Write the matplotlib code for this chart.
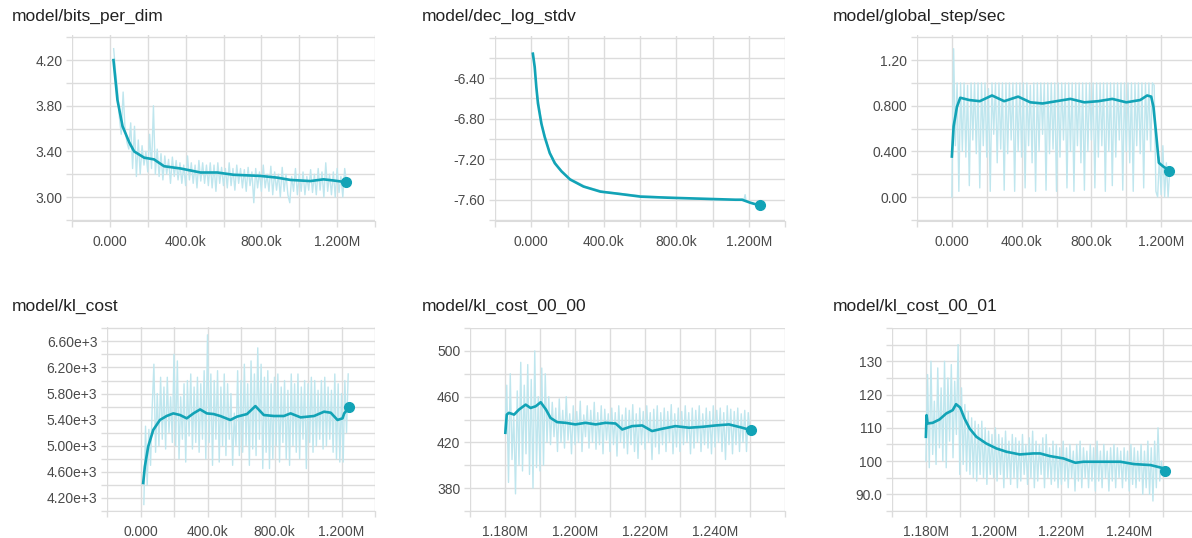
import numpy as np
import matplotlib
matplotlib.use("Agg")
import matplotlib.pyplot as plt
from matplotlib.ticker import FixedLocator, FixedFormatter, NullFormatter

plt.rcParams['font.family'] = ['Liberation Sans', 'DejaVu Sans']

# ---- data ----
# panel 1: model/bits_per_dim
bpd_raw_x = np.arange(20e3, 1251e3, 10e3)
bpd_raw_y = [4.30, 4.10, 3.95, 3.70, 3.55, 3.92, 3.60, 3.48, 3.42, 3.65,
             3.25, 3.62, 3.18, 3.50, 3.20, 3.45, 3.28, 3.40, 3.22, 3.55,
             3.25, 3.80, 3.20, 3.42, 3.18, 3.38, 3.15, 3.36, 3.20, 3.33,
             3.12, 3.35, 3.18, 3.32, 3.15, 3.30, 3.12, 3.28, 3.10, 3.36,
             3.15, 3.30, 3.12, 3.28, 3.08, 3.32, 3.14, 3.30, 3.12, 3.28,
             3.10, 3.30, 3.08, 3.28, 3.05, 3.30, 3.12, 3.26, 3.10, 3.25,
             3.08, 3.30, 3.10, 3.25, 3.06, 3.28, 3.12, 3.25, 3.08, 3.24,
             3.05, 3.26, 3.10, 3.22, 2.95, 3.25, 3.08, 3.22, 3.05, 3.28,
             3.08, 3.20, 3.05, 3.27, 3.02, 3.22, 3.06, 3.20, 3.00, 3.26,
             3.05, 3.20, 3.02, 2.95, 3.18, 3.05, 3.25, 3.02, 3.20, 3.05,
             3.22, 3.02, 3.18, 3.06, 3.24, 3.04, 3.20, 3.02, 3.25, 3.06,
             3.22, 3.00, 3.30, 3.05, 3.20, 3.02, 3.22, 3.00, 3.25, 3.04,
             3.18, 3.00, 3.25, 3.12]
bpd_sm_x = [19e3, 40e3, 67e3, 102e3, 128e3, 181e3, 233e3, 286e3, 374e3, 479e3, 567e3,
            654e3, 795e3, 883e3, 953e3, 1058e3, 1128e3, 1181e3, 1247e3]
bpd_sm_y = [4.20, 3.85, 3.62, 3.48, 3.40, 3.345, 3.33, 3.27, 3.25, 3.215, 3.215,
            3.195, 3.185, 3.17, 3.15, 3.14, 3.155, 3.145, 3.13]

# panel 2: model/dec_log_stdv
dls_raw_x = [10e3, 30e3, 60e3, 100e3, 150e3, 200e3, 300e3, 400e3, 500e3, 600e3, 700e3,
             800e3, 900e3, 1000e3, 1100e3, 1160e3, 1175e3, 1180e3, 1185e3, 1210e3, 1260e3]
dls_raw_y = [-6.15, -6.52, -6.87, -7.12, -7.29, -7.38, -7.47, -7.52, -7.54, -7.56, -7.57,
             -7.58, -7.59, -7.60, -7.60, -7.60, -7.59, -7.55, -7.61, -7.63, -7.66]
dls_sm_x = [9e3, 19e3, 28e3, 37e3, 56e3, 74e3, 102e3, 130e3, 167e3, 214e3, 288e3, 381e3,
            474e3, 605e3, 753e3, 940e3, 1126e3, 1163e3, 1209e3, 1260e3]
dls_sm_y = [-6.16, -6.29, -6.49, -6.65, -6.85, -6.98, -7.14, -7.24, -7.32, -7.40, -7.47,
            -7.52, -7.54, -7.57, -7.58, -7.59, -7.60, -7.60, -7.63, -7.656]

# panel 3: model/global_step/sec
gss_raw_x = np.arange(0, 1251e3, 10e3)
gss_raw_y = [0.00, 1.30, 0.45, 1.00, 0.05, 1.00, 0.40, 1.00, 0.35, 0.98,
             0.10, 1.00, 0.50, 1.00, 0.38, 1.00, 0.08, 1.00, 0.45, 1.00,
             0.35, 0.95, 0.05, 1.00, 0.55, 1.00, 0.30, 1.00, 0.42, 1.00,
             0.06, 1.00, 0.38, 1.00, 0.50, 1.00, 0.05, 1.00, 0.40, 1.00,
             0.35, 1.00, 0.08, 1.00, 0.45, 0.98, 0.30, 1.00, 0.05, 1.00,
             0.40, 1.00, 0.55, 1.00, 0.06, 1.00, 0.38, 1.00, 0.42, 1.00,
             0.05, 1.00, 0.35, 1.00, 0.50, 1.00, 0.08, 1.00, 0.40, 1.00,
             0.05, 1.00, 0.45, 1.00, 0.30, 1.00, 0.06, 1.00, 0.40, 1.00,
             0.50, 1.00, 0.08, 1.00, 0.35, 1.00, 0.45, 1.00, 0.05, 1.00,
             0.40, 1.00, 0.10, 1.00, 0.35, 1.00, 0.50, 1.00, 0.06, 1.00,
             0.40, 1.00, 0.30, 1.00, 0.05, 1.00, 0.45, 1.00, 0.38, 1.00,
             0.08, 1.00, 0.50, 1.00, 0.40, 1.00, 0.98, 0.05, 0.00, 0.35,
             0.02, 0.45, 0.00, 0.30, 0.00, 0.25]
gss_sm_x = [0, 10e3, 29e3, 48e3, 100e3, 160e3, 230e3, 300e3, 380e3, 450e3, 520e3, 600e3,
            680e3, 760e3, 840e3, 920e3, 1000e3, 1080e3, 1120e3, 1143e3, 1156e3, 1171e3,
            1187e3, 1210e3, 1229e3, 1248e3]
gss_sm_y = [0.355, 0.62, 0.79, 0.87, 0.85, 0.84, 0.89, 0.84, 0.88, 0.83, 0.82, 0.84,
            0.86, 0.83, 0.84, 0.86, 0.83, 0.85, 0.89, 0.88, 0.79, 0.56, 0.30, 0.27,
            0.25, 0.225]

# panel 4: model/kl_cost
kl_raw_x = np.arange(20e3, 1241e3, 10e3)
kl_raw_y = [4100, 5300, 4400, 5250, 4700, 5600, 6250, 4900, 5800, 5000,
            6050, 5100, 5900, 4950, 6050, 5200, 5750, 5050, 6400, 5000,
            6300, 4800, 5750, 5100, 5950, 4750, 6000, 5150, 6100, 4950,
            5900, 5050, 6050, 4900, 5950, 5100, 6150, 4800, 6700, 5050,
            6100, 4700, 6000, 5100, 6150, 4750, 5900, 5000, 6100, 4850,
            5950, 5100, 5800, 4700, 5500, 5000, 6150, 4850, 6000, 4900,
            6250, 5000, 5950, 4700, 6300, 4950, 6100, 4850, 6500, 5100,
            6250, 4650, 6050, 4900, 6150, 4650, 5950, 4800, 6050, 5000,
            6100, 4750, 5900, 5050, 6000, 4800, 5850, 4700, 6100, 5000,
            5950, 4900, 6100, 4800, 5900, 5100, 6000, 4650, 5950, 5050,
            6050, 4900, 6000, 5000, 5850, 5100, 6000, 4950, 6050, 5000,
            5900, 5100, 5850, 4900, 6100, 4800, 5950, 4750, 5800, 4750,
            6000, 5200, 6100]
kl_sm_x = [16e3, 26e3, 46e3, 76e3, 116e3, 156e3, 196e3, 236e3, 276e3, 316e3, 356e3,
           396e3, 436e3, 476e3, 536e3, 576e3, 636e3, 686e3, 736e3, 796e3, 856e3, 896e3,
           956e3, 1036e3, 1096e3, 1136e3, 1176e3, 1206e3, 1216e3, 1246e3]
kl_sm_y = [4429, 4683, 4988, 5242, 5395, 5456, 5496, 5471, 5420, 5496, 5557, 5496, 5486,
           5456, 5395, 5446, 5486, 5608, 5471, 5456, 5456, 5496, 5435, 5456, 5522, 5506,
           5395, 5420, 5496, 5588]

# panel 5: model/kl_cost_00_00
k0_raw_x = np.arange(1180e3, 1250.1e3, 0.5e3)
k0_raw_y = [430, 470, 385, 480, 405, 445, 375, 465, 400, 490,
            395, 470, 410, 488, 392, 475, 380, 500, 398, 460,
            395, 485, 400, 480, 420, 460, 418, 455, 425, 450,
            412, 458, 420, 448, 415, 460, 422, 445, 410, 452,
            418, 447, 420, 456, 412, 444, 425, 452, 415, 448,
            420, 455, 414, 446, 418, 452, 410, 449, 422, 445,
            412, 450, 418, 446, 408, 452, 420, 444, 415, 450,
            410, 448, 418, 453, 412, 445, 406, 450, 418, 447,
            414, 452, 420, 446, 405, 449, 416, 452, 410, 446,
            418, 450, 412, 447, 420, 453, 410, 445, 416, 450,
            412, 447, 418, 452, 420, 446, 410, 450, 415, 448,
            420, 452, 412, 445, 418, 450, 415, 447, 410, 452,
            416, 448, 420, 450, 412, 446, 405, 452, 418, 449,
            410, 447, 418, 450, 412, 445, 420, 448, 412, 446,
            428]
k0_sm_x = [1180.1e3, 1180.5e3, 1181.1e3, 1182.6e3, 1184.0e3, 1185.9e3, 1187.3e3,
           1188.8e3, 1190.2e3, 1191.7e3, 1193.0e3, 1194.9e3, 1197.3e3, 1200.1e3,
           1203.0e3, 1205.9e3, 1208.7e3, 1211.6e3, 1213.5e3, 1216.3e3, 1219.2e3,
           1222.0e3, 1224.9e3, 1228.7e3, 1232.6e3, 1236.4e3, 1240.2e3, 1244.0e3,
           1247.8e3, 1250.2e3]
k0_sm_y = [428.4, 444.3, 445.8, 444.3, 448.7, 453.0, 450.1, 451.6, 455.1, 448.7, 441.4,
           437.7, 437.1, 435.7, 437.1, 435.7, 437.1, 436.5, 431.3, 434.2, 434.8, 429.9,
           431.9, 434.2, 432.8, 433.6, 434.8, 435.7, 432.8, 430.7]

# panel 6: model/kl_cost_00_01
k1_raw_x = np.arange(1180e3, 1250.1e3, 0.5e3)
k1_raw_y = [100, 126, 98, 130, 102, 118, 99, 128, 104, 122,
            100, 130, 98, 125, 106, 129, 101, 124, 108, 135,
            96, 122, 99, 117, 97, 115, 96, 113, 95, 112,
            94, 111, 96, 112, 95, 110, 93, 109, 96, 108,
            95, 110, 94, 108, 96, 107, 92, 109, 95, 106,
            93, 108, 95, 107, 92, 106, 94, 108, 96, 105,
            93, 107, 95, 109, 92, 106, 94, 105, 96, 107,
            92, 108, 95, 104, 93, 106, 94, 105, 92, 104,
            93, 106, 94, 104, 92, 105, 95, 103, 91, 105,
            94, 106, 92, 104, 95, 103, 92, 105, 94, 104,
            91, 106, 94, 103, 92, 105, 95, 103, 91, 104,
            94, 105, 92, 104, 95, 103, 92, 104, 94, 103,
            91, 105, 93, 104, 92, 103, 94, 105, 90, 103,
            92, 106, 90, 104, 88, 106, 92, 110, 94, 100,
            96]
k1_sm_x = [1180.0e3, 1180.2e3, 1180.5e3, 1182.0e3, 1184.0e3, 1186.0e3, 1187.9e3,
           1188.9e3, 1190.1e3, 1191.4e3, 1192.9e3, 1194.9e3, 1197.8e3, 1200.8e3,
           1203.8e3, 1207.7e3, 1211.7e3, 1213.7e3, 1216.6e3, 1220.6e3, 1224.1e3,
           1226.5e3, 1231.5e3, 1237.4e3, 1241.4e3, 1246.3e3, 1250.3e3, 1250.5e3]
k1_sm_y = [107.3, 113.8, 111.3, 111.5, 112.5, 114.3, 115.3, 117.1, 116.1, 112.8, 109.8,
           107.3, 105.3, 103.8, 102.8, 102.0, 102.3, 102.3, 101.5, 100.8, 99.5, 99.8,
           99.8, 99.8, 99.1, 98.8, 97.8, 97.0]

# tick labels
long_x_ticks = [0, 400e3, 800e3, 1200e3]
long_x_labels = ['0.000', '400.0k', '800.0k', '1.200M']
short_x_ticks = [1180e3, 1200e3, 1220e3, 1240e3]
short_x_labels = ['1.180M', '1.200M', '1.220M', '1.240M']

W, H = 1192, 538
SMOOTH = '#12a3b6'
RAW = '#bfe6ee'
GRID = '#dcdcdc'
TXT = '#4a4a4a'

fig = plt.figure(figsize=(W / 100, H / 100), dpi=100)


def panel(box, title, title_x, title_y, raw, smooth, xlim, ylim, xt, xl, xminor,
          yt, yl, yminor):
    l, r, t, b = box
    ax = fig.add_axes([l / W, 1 - b / H, (r - l) / W, (b - t) / H])
    ax.plot(raw[0], raw[1], color=RAW, lw=1.0, zorder=2)
    ax.plot(smooth[0], smooth[1], color=SMOOTH, lw=1.9, zorder=3)
    ax.plot(smooth[0][-1], smooth[1][-1], 'o', color=SMOOTH, ms=7, zorder=4)
    ax.set_xlim(*xlim)
    ax.set_ylim(*ylim)
    ax.xaxis.set_major_locator(FixedLocator(xt))
    ax.xaxis.set_major_formatter(FixedFormatter(xl))
    ax.xaxis.set_minor_locator(FixedLocator(xminor))
    ax.xaxis.set_minor_formatter(NullFormatter())
    ax.yaxis.set_major_locator(FixedLocator(yt))
    ax.yaxis.set_major_formatter(FixedFormatter(yl))
    ax.yaxis.set_minor_locator(FixedLocator(yminor))
    ax.yaxis.set_minor_formatter(NullFormatter())
    ax.grid(True, which='both', color=GRID, lw=1.0, zorder=0)
    ax.set_axisbelow(True)
    for s in ['top', 'left', 'right']:
        ax.spines[s].set_visible(False)
    ax.spines['bottom'].set_color(GRID)
    ax.tick_params(axis='both', which='both', color=GRID, labelcolor=TXT,
                   labelsize=10, length=4, width=1)
    ax.tick_params(axis='x', which='both', pad=6)
    ax.tick_params(axis='y', which='both', pad=3)
    fig.text(title_x / W, 1 - title_y / H, title, fontsize=12.5, color='#222222',
             va='center', ha='left')
    return ax


long_minor = np.arange(-200e3, 1401e3, 200e3)
short_minor = np.arange(1170e3, 1261e3, 10e3)

panel((72, 375, 35, 221), 'model/bits_per_dim', 12, 16,
      (bpd_raw_x, bpd_raw_y), (bpd_sm_x, bpd_sm_y), (-200e3, 1400e3), (2.79, 4.42),
      long_x_ticks, long_x_labels, long_minor,
      [3.0, 3.4, 3.8, 4.2], ['3.00', '3.40', '3.80', '4.20'], np.arange(2.8, 4.41, 0.2))

panel((495, 785, 36, 221), 'model/dec_log_stdv', 422, 16,
      (dls_raw_x, dls_raw_y), (dls_sm_x, dls_sm_y), (-200e3, 1400e3), (-7.81, -5.985),
      long_x_ticks, long_x_labels, long_minor,
      [-7.6, -7.2, -6.8, -6.4], ['-7.60', '-7.20', '-6.80', '-6.40'],
      np.arange(-7.8, -5.99, 0.2))

panel((917, 1196, 35, 221), 'model/global_step/sec', 833, 16,
      (gss_raw_x, gss_raw_y), (gss_sm_x, gss_sm_y), (-200e3, 1400e3), (-0.21, 1.42),
      long_x_ticks, long_x_labels, long_minor,
      [0.0, 0.4, 0.8, 1.2], ['0.00', '0.400', '0.800', '1.20'], np.arange(-0.2, 1.41, 0.2))

panel((107, 375, 327, 511), 'model/kl_cost', 12, 306,
      (kl_raw_x, kl_raw_y), (kl_sm_x, kl_sm_y), (-200e3, 1400e3), (4000, 6820),
      long_x_ticks, long_x_labels, long_minor,
      [4200, 4600, 5000, 5400, 5800, 6200, 6600],
      ['4.20e+3', '4.60e+3', '5.00e+3', '5.40e+3', '5.80e+3', '6.20e+3', '6.60e+3'],
      np.arange(4000, 6801, 200))

panel((470, 785, 328, 511), 'model/kl_cost_00_00', 422, 306,
      (k0_raw_x, k0_raw_y), (k0_sm_x, k0_sm_y), (1170e3, 1260e3), (360, 520),
      short_x_ticks, short_x_labels, short_minor,
      [380, 420, 460, 500], ['380', '420', '460', '500'], np.arange(360, 521, 20))

panel((892, 1197, 328, 511), 'model/kl_cost_00_01', 833, 306,
      (k1_raw_x, k1_raw_y), (k1_sm_x, k1_sm_y), (1170e3, 1260e3), (85, 140),
      short_x_ticks, short_x_labels, short_minor,
      [90, 100, 110, 120, 130], ['90.0', '100', '110', '120', '130'],
      np.arange(85, 141, 5))

fig.savefig('out.png', dpi=100)
